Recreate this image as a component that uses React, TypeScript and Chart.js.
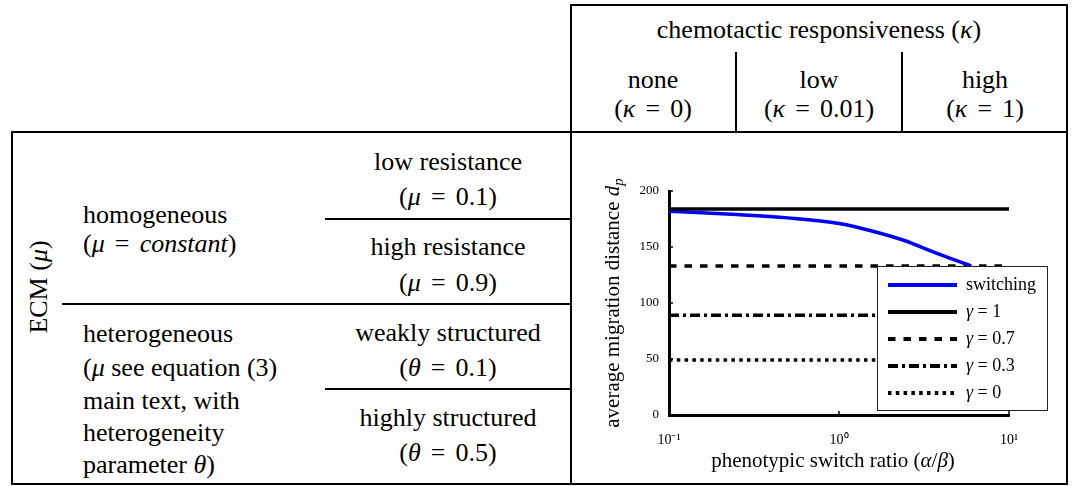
import React, { useEffect, useRef } from 'react';
import { Chart, registerables } from 'chart.js';

Chart.register(...registerables);

// ---------- data ----------
const xTickValues = [0.1, 1, 10];
const xTickLabels = ['10⁻¹', '10⁰', '10¹'];
const yTickValues = [0, 50, 100, 150, 200];

const switchingX = [0.1, 0.25, 0.5, 1, 1.5, 2.4, 3.8, 6];
const switchingY = [182, 179, 176, 171, 165, 156, 144, 133];

const gammaLabels = ['γ = 1', 'γ = 0.7', 'γ = 0.3', 'γ = 0'];
const gammaValues = [184, 133, 89, 49];
const gammaRangeX = [0.1, 10];

const kappaNames = ['none', 'low', 'high'];
const kappaValues = ['0', '0.01', '1'];

const FONT = '"Liberation Serif", "Times New Roman", serif';
const TABLE_FONT_SIZE = 26;

type Seg = { t: string; it?: boolean; sub?: boolean };

function segFont(s: Seg, size: number) {
  return `${s.it ? 'italic ' : ''}${s.sub ? Math.round(size * 0.7) : size}px ${FONT}`;
}
function measureSegs(ctx: CanvasRenderingContext2D, segs: Seg[], size: number) {
  let w = 0;
  for (const s of segs) {
    ctx.font = segFont(s, size);
    w += ctx.measureText(s.t).width;
  }
  return w;
}
function drawSegs(ctx: CanvasRenderingContext2D, segs: Seg[], x: number, y: number, size: number) {
  let cx = x;
  for (const s of segs) {
    ctx.font = segFont(s, size);
    ctx.fillText(s.t, cx, s.sub ? y + size * 0.28 : y);
    cx += ctx.measureText(s.t).width;
  }
}
function labelSegs(label: string): Seg[] {
  if (label.startsWith('γ')) return [{ t: 'γ', it: true }, { t: label.slice(1) }];
  return [{ t: label }];
}

const tickMarkPlugin = {
  id: 'inwardTicks',
  afterDraw(chart: any) {
    const { ctx, chartArea: a, scales } = chart;
    ctx.save();
    ctx.strokeStyle = '#000';
    ctx.lineWidth = 1.5;
    for (const v of xTickValues) {
      const px = scales.x.getPixelForValue(v);
      ctx.beginPath();
      ctx.moveTo(px, a.bottom);
      ctx.lineTo(px, a.bottom - 4);
      ctx.stroke();
    }
    for (const v of yTickValues) {
      const py = scales.y.getPixelForValue(v);
      ctx.beginPath();
      ctx.moveTo(a.left, py);
      ctx.lineTo(a.left + 4, py);
      ctx.stroke();
    }
    ctx.restore();
  },
};

const titlePlugin = {
  id: 'richTitles',
  afterDraw(chart: any) {
    const { ctx, chartArea: a } = chart;
    ctx.save();
    ctx.fillStyle = '#000';
    ctx.textBaseline = 'middle';
    const size = 21;
    const xs: Seg[] = [
      { t: 'phenotypic switch ratio (' },
      { t: 'α', it: true },
      { t: '/' },
      { t: 'β', it: true },
      { t: ')' },
    ];
    const wx = measureSegs(ctx, xs, size);
    drawSegs(ctx, xs, (a.left + a.right) / 2 - wx / 2 - 6, a.bottom + 46, size);

    const ys: Seg[] = [
      { t: 'average migration distance ' },
      { t: 'd', it: true },
      { t: 'p', it: true, sub: true },
    ];
    ctx.translate(a.left - 56, (a.top + a.bottom) / 2);
    ctx.rotate(-Math.PI / 2);
    const wy = measureSegs(ctx, ys, size);
    drawSegs(ctx, ys, -wy / 2, 0, size);
    ctx.restore();
  },
};

const boxLegendPlugin = {
  id: 'boxLegend',
  afterDraw(chart: any) {
    const { ctx, chartArea: a } = chart;
    const x0 = a.left + 208;
    const y0 = a.top + 75;
    const w = 170;
    const h = 144;
    ctx.save();
    ctx.fillStyle = '#fff';
    ctx.fillRect(x0, y0, w, h);
    ctx.strokeStyle = '#222';
    ctx.lineWidth = 1;
    ctx.strokeRect(x0 + 0.5, y0 + 0.5, w, h);
    const rows = chart.data.datasets;
    rows.forEach((ds: any, i: number) => {
      const cy = y0 + 19 + i * 27;
      ctx.strokeStyle = ds.borderColor;
      ctx.lineWidth = 4;
      ctx.lineCap = 'butt';
      ctx.setLineDash(ds.borderDash || []);
      ctx.beginPath();
      ctx.moveTo(x0 + 11, cy);
      ctx.lineTo(x0 + 80, cy);
      ctx.stroke();
      ctx.setLineDash([]);
      ctx.fillStyle = '#000';
      ctx.textBaseline = 'middle';
      drawSegs(ctx, labelSegs(ds.label), x0 + 89, cy, 18);
    });
    ctx.restore();
  },
};

const dashStyles = [[], [7.5, 8], [10, 4, 3, 4], [3.5, 4.3]];

function ChartBox() {
  const ref = useRef<HTMLCanvasElement | null>(null);
  useEffect(() => {
    if (!ref.current) return;
    const datasets: any[] = [
      {
        label: 'switching',
        data: switchingX.map((x, i) => ({ x, y: switchingY[i] })),
        borderColor: '#0000ff',
        borderWidth: 3.5,
        pointRadius: 0,
        tension: 0.4,
        cubicInterpolationMode: 'monotone',
        order: 2,
      },
      ...gammaLabels.map((label, i) => ({
        label,
        data: gammaRangeX.map((x) => ({ x, y: gammaValues[i] })),
        borderColor: '#000',
        borderWidth: 3.5,
        borderDash: dashStyles[i],
        borderCapStyle: 'butt',
        pointRadius: 0,
        order: i === 0 ? 1 : 3 + i,
      })),
    ];
    const chart = new Chart(ref.current, {
      type: 'line',
      data: { datasets },
      options: {
        animation: false,
        responsive: false,
        devicePixelRatio: 1,
        layout: { padding: { top: 58, right: 58, left: 0, bottom: 0 } },
        plugins: { legend: { display: false }, tooltip: { enabled: false } },
        scales: {
          x: {
            type: 'logarithmic',
            min: 0.1,
            max: 10,
            afterBuildTicks: (s: any) => {
              s.ticks = xTickValues.map((v) => ({ value: v }));
            },
            afterFit: (s: any) => {
              s.height = 68;
            },
            ticks: {
              autoSkip: false,
              maxRotation: 0,
              padding: 17,
              color: '#000',
              font: { size: 14, family: FONT },
              callback: (_v: any, i: number) => xTickLabels[i],
            },
            grid: { display: false, drawTicks: false },
            border: { display: true, color: '#000', width: 3 },
          },
          y: {
            type: 'linear',
            min: 0,
            max: 200,
            afterBuildTicks: (s: any) => {
              s.ticks = yTickValues.map((v) => ({ value: v }));
            },
            afterFit: (s: any) => {
              s.width = 97;
            },
            ticks: {
              padding: 10,
              color: '#000',
              font: { size: 13, family: FONT },
              callback: (v: any) => String(v),
            },
            grid: { display: false, drawTicks: false },
            border: { display: true, color: '#000', width: 3 },
          },
        },
      } as any,
      plugins: [tickMarkPlugin, titlePlugin, boxLegendPlugin],
    });
    return () => chart.destroy();
  }, []);
  return <canvas ref={ref} width={495} height={350} style={{ display: 'block' }} />;
}

const HL = ({ x1, x2, y }: { x1: number; x2: number; y: number }) => (
  <div style={{ position: 'absolute', left: x1, top: y - 1, width: x2 - x1, height: 2, background: '#000' }} />
);
const VL = ({ x, y1, y2 }: { x: number; y1: number; y2: number }) => (
  <div style={{ position: 'absolute', left: x - 1, top: y1, width: 2, height: y2 - y1, background: '#000' }} />
);
const T = ({ x, y, children, left }: { x: number; y: number; children: any; left?: boolean }) => (
  <div
    style={{
      position: 'absolute',
      left: x,
      top: y,
      transform: left ? 'translate(0,-50%)' : 'translate(-50%,-50%)',
      whiteSpace: 'nowrap',
      fontSize: TABLE_FONT_SIZE,
      lineHeight: 1,
      fontFamily: FONT,
      color: '#000',
    }}
  >
    {children}
  </div>
);
const Eq = () => <span style={{ margin: '0 0.14em' }}>=</span>;

export default function App() {
  const colCenters = [653, 819, 985];
  return (
    <div style={{ position: 'fixed', left: 0, top: 0, width: 1072, height: 486, background: '#fff', overflow: 'hidden' }}>
      {/* lines */}
      <HL x1={570} x2={1068} y={5} />
      <VL x={571} y1={4} y2={485} />
      <VL x={1067} y1={4} y2={485} />
      <HL x1={11} x2={1068} y={132} />
      <HL x1={11} x2={1068} y={484} />
      <VL x={12} y1={131} y2={485} />
      <VL x={736} y1={52} y2={132} />
      <VL x={902} y1={52} y2={132} />
      <HL x1={62} x2={571} y={304} />
      <HL x1={325} x2={571} y={219} />
      <HL x1={325} x2={571} y={389} />

      {/* header */}
      <T x={819} y={30}>chemotactic responsiveness (<i>κ</i>)</T>
      {kappaNames.map((n, i) => (
        <React.Fragment key={n}>
          <T x={colCenters[i]} y={80}>{n}</T>
          <T x={colCenters[i]} y={109}>
            (<i>κ</i> <Eq /> {kappaValues[i]})
          </T>
        </React.Fragment>
      ))}

      {/* right column */}
      <T x={448} y={162}>low resistance</T>
      <T x={448} y={197}>(<i>μ</i> <Eq /> 0.1)</T>
      <T x={448} y={247}>high resistance</T>
      <T x={448} y={283}>(<i>μ</i> <Eq /> 0.9)</T>
      <T x={448} y={333}>weakly structured</T>
      <T x={448} y={368}>(<i>θ</i> <Eq /> 0.1)</T>
      <T x={448} y={418}>highly structured</T>
      <T x={448} y={453}>(<i>θ</i> <Eq /> 0.5)</T>

      {/* middle column */}
      <T x={83} y={215} left>homogeneous</T>
      <T x={83} y={244} left>(<i>μ</i> <Eq /> <i>constant</i>)</T>
      <T x={83} y={334} left>heterogeneous</T>
      <T x={83} y={368} left>(<i>μ</i> see equation (3)</T>
      <T x={83} y={401} left>main text, with</T>
      <T x={83} y={433} left>heterogeneity</T>
      <T x={83} y={465} left>parameter <i>θ</i>)</T>

      {/* ECM label */}
      <div
        style={{
          position: 'absolute',
          left: 39,
          top: 287,
          transform: 'translate(-50%,-50%) rotate(-90deg)',
          whiteSpace: 'nowrap',
          fontSize: TABLE_FONT_SIZE,
          lineHeight: 1,
          fontFamily: FONT,
        }}
      >
        ECM (<i>μ</i>)
      </div>

      {/* chart */}
      <div style={{ position: 'absolute', left: 572, top: 133, width: 495, height: 350 }}>
        <ChartBox />
      </div>
    </div>
  );
}
